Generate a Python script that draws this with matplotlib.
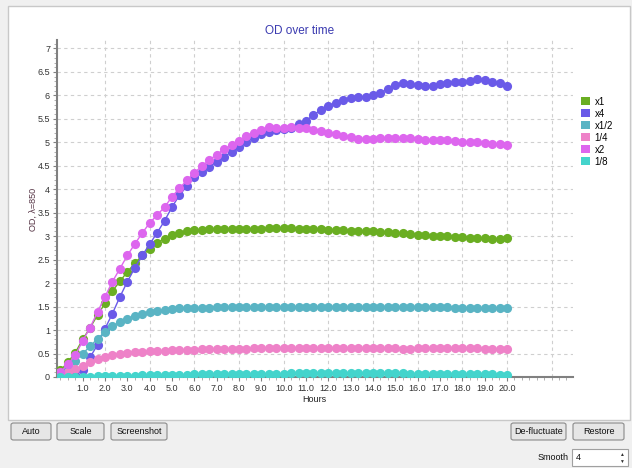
import matplotlib
matplotlib.use('Agg')
import matplotlib.pyplot as plt
from matplotlib.patches import Rectangle, FancyBboxPatch, Patch
from matplotlib.ticker import MultipleLocator, FixedLocator

plt.rcParams['font.family'] = ['Liberation Sans', 'DejaVu Sans']

# sample times (hours), one reading every 20 minutes
hours = [0.0, 0.33, 0.67, 1.0, 1.33, 1.67, 2.0, 2.33, 2.67, 3.0,
         3.33, 3.67, 4.0, 4.33, 4.67, 5.0, 5.33, 5.67, 6.0, 6.33,
         6.67, 7.0, 7.33, 7.67, 8.0, 8.33, 8.67, 9.0, 9.33, 9.67,
         10.0, 10.33, 10.67, 11.0, 11.33, 11.67, 12.0, 12.33, 12.67, 13.0,
         13.33, 13.67, 14.0, 14.33, 14.67, 15.0, 15.33, 15.67, 16.0, 16.33,
         16.67, 17.0, 17.33, 17.67, 18.0, 18.33, 18.67, 19.0, 19.33, 19.67,
         20.0]

od_x1 = [0.14, 0.31, 0.52, 0.80, 1.05, 1.32, 1.57, 1.83, 2.04, 2.24,
         2.42, 2.59, 2.73, 2.86, 2.95, 3.02, 3.07, 3.11, 3.13, 3.14,
         3.15, 3.15, 3.15, 3.16, 3.16, 3.16, 3.16, 3.16, 3.17, 3.17,
         3.17, 3.17, 3.16, 3.16, 3.15, 3.15, 3.14, 3.14, 3.13, 3.12,
         3.12, 3.11, 3.10, 3.09, 3.08, 3.07, 3.06, 3.05, 3.03, 3.02,
         3.01, 3.01, 3.00, 2.99, 2.98, 2.97, 2.97, 2.96, 2.95, 2.95,
         2.96]

od_x4 = [0.02, 0.02, 0.05, 0.15, 0.42, 0.69, 1.03, 1.35, 1.71, 2.03,
         2.32, 2.59, 2.83, 3.07, 3.33, 3.62, 3.87, 4.07, 4.26, 4.37,
         4.48, 4.58, 4.69, 4.80, 4.90, 5.01, 5.10, 5.17, 5.22, 5.26,
         5.28, 5.31, 5.39, 5.46, 5.58, 5.69, 5.78, 5.84, 5.90, 5.95,
         5.97, 5.97, 6.00, 6.06, 6.13, 6.22, 6.27, 6.24, 6.22, 6.20,
         6.20, 6.24, 6.27, 6.29, 6.29, 6.31, 6.34, 6.33, 6.29, 6.26,
         6.20]

od_x1_2 = [0.05, 0.21, 0.35, 0.50, 0.65, 0.82, 0.96, 1.08, 1.17, 1.24,
           1.30, 1.35, 1.38, 1.40, 1.42, 1.44, 1.46, 1.46, 1.47, 1.48,
           1.48, 1.49, 1.49, 1.49, 1.49, 1.49, 1.49, 1.50, 1.50, 1.50,
           1.50, 1.50, 1.50, 1.50, 1.50, 1.50, 1.50, 1.50, 1.50, 1.50,
           1.50, 1.50, 1.50, 1.50, 1.50, 1.50, 1.50, 1.50, 1.50, 1.50,
           1.49, 1.49, 1.49, 1.48, 1.48, 1.48, 1.47, 1.47, 1.46, 1.46,
           1.46]

od_1_4 = [0.02, 0.11, 0.16, 0.23, 0.32, 0.38, 0.43, 0.46, 0.49, 0.52,
          0.53, 0.54, 0.55, 0.56, 0.56, 0.57, 0.58, 0.58, 0.58, 0.59,
          0.59, 0.60, 0.60, 0.60, 0.60, 0.60, 0.61, 0.61, 0.61, 0.61,
          0.61, 0.61, 0.61, 0.61, 0.61, 0.61, 0.62, 0.62, 0.62, 0.62,
          0.61, 0.61, 0.61, 0.61, 0.61, 0.61, 0.60, 0.60, 0.61, 0.61,
          0.61, 0.61, 0.61, 0.61, 0.61, 0.61, 0.61, 0.60, 0.60, 0.60,
          0.60]

od_x2 = [0.10, 0.27, 0.46, 0.77, 1.05, 1.39, 1.71, 2.03, 2.31, 2.59,
         2.83, 3.07, 3.28, 3.45, 3.62, 3.84, 4.02, 4.19, 4.35, 4.49,
         4.62, 4.74, 4.85, 4.94, 5.03, 5.13, 5.20, 5.27, 5.32, 5.31,
         5.31, 5.32, 5.30, 5.30, 5.27, 5.24, 5.20, 5.17, 5.14, 5.12,
         5.08, 5.08, 5.08, 5.09, 5.10, 5.10, 5.10, 5.10, 5.08, 5.06,
         5.05, 5.05, 5.04, 5.03, 5.01, 5.01, 5.00, 4.98, 4.96, 4.96,
         4.94]

od_1_8 = [0.00, 0.00, 0.01, 0.01, 0.01, 0.02, 0.02, 0.02, 0.03, 0.03,
          0.03, 0.04, 0.04, 0.04, 0.05, 0.05, 0.05, 0.05, 0.06, 0.06,
          0.06, 0.06, 0.06, 0.07, 0.07, 0.07, 0.07, 0.07, 0.07, 0.07,
          0.07, 0.08, 0.08, 0.08, 0.08, 0.08, 0.08, 0.08, 0.08, 0.08,
          0.08, 0.08, 0.08, 0.08, 0.08, 0.08, 0.08, 0.07, 0.07, 0.07,
          0.07, 0.07, 0.07, 0.06, 0.06, 0.06, 0.06, 0.06, 0.06, 0.05,
          0.05]

series_names = ['x1', 'x4', 'x1/2', '1/4', 'x2', '1/8']
series_values = [od_x1, od_x4, od_x1_2, od_1_4, od_x2, od_1_8]
series_colors = ['#6aae22', '#6a5ae8', '#5ab4c4', '#ee82c8', '#dd66ee', '#44d4cc']

x_tick_values = [1.0, 2.0, 3.0, 4.0, 5.0, 6.0, 7.0, 8.0, 9.0, 10.0,
                 11.0, 12.0, 13.0, 14.0, 15.0, 16.0, 17.0, 18.0, 19.0, 20.0]

W, H = 632, 468


def fx(x):
    return x / W


def fy(y):
    return 1 - y / H


fig = plt.figure(figsize=(W / 100, H / 100), dpi=100, facecolor='#f0f0f0')

# white chart panel (behind the axes)
fig.patches.append(Rectangle((fx(8), fy(420)), 622 / W, 414 / H, transform=fig.transFigure,
                             facecolor='white', edgecolor='#c8c8c8', linewidth=1, zorder=-5))

ax = fig.add_axes([fx(57), fy(377), (573 - 57) / W, (377 - 40) / H])
ax.set_zorder(1)
ax.set_facecolor('white')

for name, vals, col in zip(series_names, series_values, series_colors):
    ax.plot(hours, vals, color=col, linewidth=1, marker='o', markersize=6.6,
            markeredgewidth=0, label=name, zorder=3)

ax.set_xlim(-0.15, 22.96)
ax.set_ylim(0, 7.18)

ax.xaxis.set_major_locator(FixedLocator(x_tick_values))
ax.set_xticklabels([f'{v:.1f}' for v in x_tick_values])
ax.xaxis.set_minor_locator(MultipleLocator(1 / 3))
ax.yaxis.set_major_locator(MultipleLocator(0.5))
ax.yaxis.set_major_formatter(plt.FuncFormatter(lambda v, p: f'{v:g}'))
ax.yaxis.set_minor_locator(MultipleLocator(0.1))

ax.tick_params(axis='both', which='major', labelsize=6.5, colors='#808080',
               labelcolor='#333333', length=3, width=0.8, pad=2)
ax.tick_params(axis='both', which='minor', colors='#909090', length=2, width=0.5)

# dashed grid: every 0.5 OD and every 2 hours
for yv in [i * 0.5 for i in range(1, 15)]:
    ax.axhline(yv, color='#cfcfcf', linestyle=(0, (3, 3)), linewidth=0.8, zorder=0)
for xv in range(2, 23, 2):
    ax.axvline(xv, color='#cfcfcf', linestyle=(0, (3, 3)), linewidth=0.8, zorder=0)

for s in ['top', 'right']:
    ax.spines[s].set_visible(False)
for s in ['left', 'bottom']:
    ax.spines[s].set_color('#808080')
    ax.spines[s].set_linewidth(1.5)

fig.text(fx(300), fy(31), 'OD over time', ha='center', va='center', fontsize=8.5, color='#3a3ab0')
fig.text(fx(33), fy(209), 'OD, \u03bb=850', ha='center', va='center', rotation=90,
         fontsize=6.5, color='#553344')
fig.text(fx(314), fy(399), 'Hours', ha='center', va='center', fontsize=6.5, color='#222222')

handles = [Patch(facecolor=c, edgecolor='none') for c in series_colors]
fig.legend(handles, series_names, loc='upper left', bbox_to_anchor=(fx(574), fy(90)),
           bbox_transform=fig.transFigure, frameon=False, fontsize=7, handlelength=0.9,
           handleheight=0.9, handletextpad=0.5, labelspacing=0.2, borderpad=0.2)


def button(x0, y0, x1, y1, label):
    fig.patches.append(FancyBboxPatch((fx(x0), fy(y1)), (x1 - x0) / W, (y1 - y0) / H,
                                      boxstyle='round,pad=0,rounding_size=0.004',
                                      transform=fig.transFigure, facecolor='#e6e6e6',
                                      edgecolor='#8a8a8a', linewidth=0.8))
    fig.text(fx((x0 + x1) / 2), fy((y0 + y1) / 2), label, ha='center', va='center',
             fontsize=6.5, color='#111111')


button(11, 423, 51, 440, 'Auto')
button(57, 423, 104, 440, 'Scale')
button(111, 423, 167, 440, 'Screenshot')
button(511, 423, 566, 440, 'De-fluctuate')
button(573, 423, 624, 440, 'Restore')

fig.text(fx(553), fy(457), 'Smooth', ha='center', va='center', fontsize=6.5, color='#111111')
fig.patches.append(Rectangle((fx(572), fy(466)), 56 / W, 17 / H, transform=fig.transFigure,
                             facecolor='white', edgecolor='#a0a0a0', linewidth=0.8))
fig.text(fx(576), fy(457), '4', ha='left', va='center', fontsize=6.5, color='#111111')
fig.text(fx(621), fy(454), '\u25b2', ha='center', va='center', fontsize=3.5, color='#333333')
fig.text(fx(621), fy(461), '\u25bc', ha='center', va='center', fontsize=3.5, color='#333333')

fig.savefig('out.png', dpi=100, facecolor=fig.get_facecolor())
